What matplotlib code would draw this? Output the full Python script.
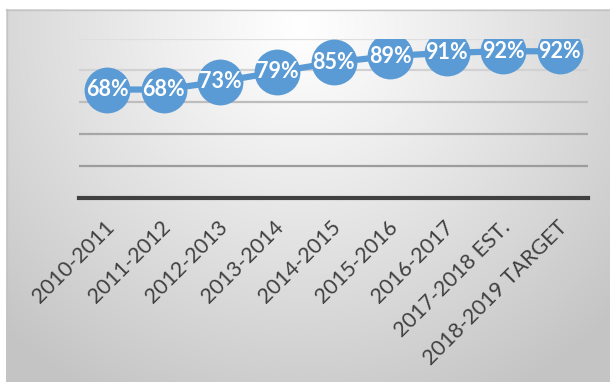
import matplotlib
matplotlib.use('Agg')
import matplotlib.pyplot as plt
import numpy as np
from matplotlib.transforms import ScaledTranslation

categories = ["2010-2011", "2011-2012", "2012-2013", "2013-2014", "2014-2015",
              "2015-2016", "2016-2017", "2017-2018 EST.", "2018-2019 TARGET"]
values = [68, 68, 73, 79, 85, 89, 91, 92, 92]
y_ticks = [0, 20, 40, 60, 80, 100]

W, H = 610, 382
fig = plt.figure(figsize=(W / 100, H / 100), dpi=100)

# background gradient
bg = fig.add_axes([0, 0, 1, 1])
bg.axis('off')
yy, xx = np.mgrid[0:H, 0:W]
r = np.sqrt(((xx - 300) / 430.0) ** 2 + ((yy - 25) / 420.0) ** 2)
v = 1 - 0.23 * np.clip(r, 0, 1) ** 1.1
img = np.dstack([v, v, v])
img[:9, :] = 1
img[:, :6] = 1
bg.imshow(img, extent=[0, W, H, 0], aspect='auto', interpolation='bilinear')
bg.plot([6.5, 6.5], [9, H], color='#c4c4c4', lw=1)
bg.plot([6, W], [9.5, 9.5], color='#c4c4c4', lw=1)
bg.set_xlim(0, W)
bg.set_ylim(H, 0)

ax = fig.add_axes([79 / W, (H - 198) / H, 509 / W, (198 - 38.5) / H])
ax.patch.set_alpha(0)
x = np.arange(len(categories))
ax.set_xlim(-0.5, len(categories) - 0.5)
ax.set_ylim(0, 100)
ax.set_yticks(y_ticks)
ax.set_yticklabels([])
ax.tick_params(axis='y', length=0)
ax.grid(axis='y', lw=1.6)
grid_colors = ['#9a9a9a', '#9c9c9c', '#a6a6a6', '#bdbdbd', '#d2d2d2', '#dedede']
for gl, c in zip(ax.get_ygridlines(), grid_colors):
    gl.set_color(c)
ax.set_axisbelow(True)
for s in ['top', 'right', 'left']:
    ax.spines[s].set_visible(False)
ax.spines['bottom'].set_color('#404040')
ax.spines['bottom'].set_linewidth(3)
ax.spines['bottom'].set_zorder(5)

ax.plot(x, values, color='#5b9bd5', lw=4.5, marker='o', ms=33,
        markeredgewidth=0, zorder=3)
for xi, val in zip(x, values):
    ax.text(xi, val, f"{val}%", ha='center', va='center', color='white',
            fontweight='bold', fontsize=15.5, family='Lato', zorder=4)

ax.set_xticks(x)
ax.set_xticklabels(categories, rotation=45, ha='right', va='center',
                   rotation_mode='anchor', fontsize=15.5, color='#404040',
                   family='Lato')
ax.tick_params(axis='x', length=0, pad=19)
off = ScaledTranslation(4 / 100, 0, fig.dpi_scale_trans)
for lab in ax.get_xticklabels():
    lab.set_transform(lab.get_transform() + off)

fig.savefig('out.png', dpi=100)
